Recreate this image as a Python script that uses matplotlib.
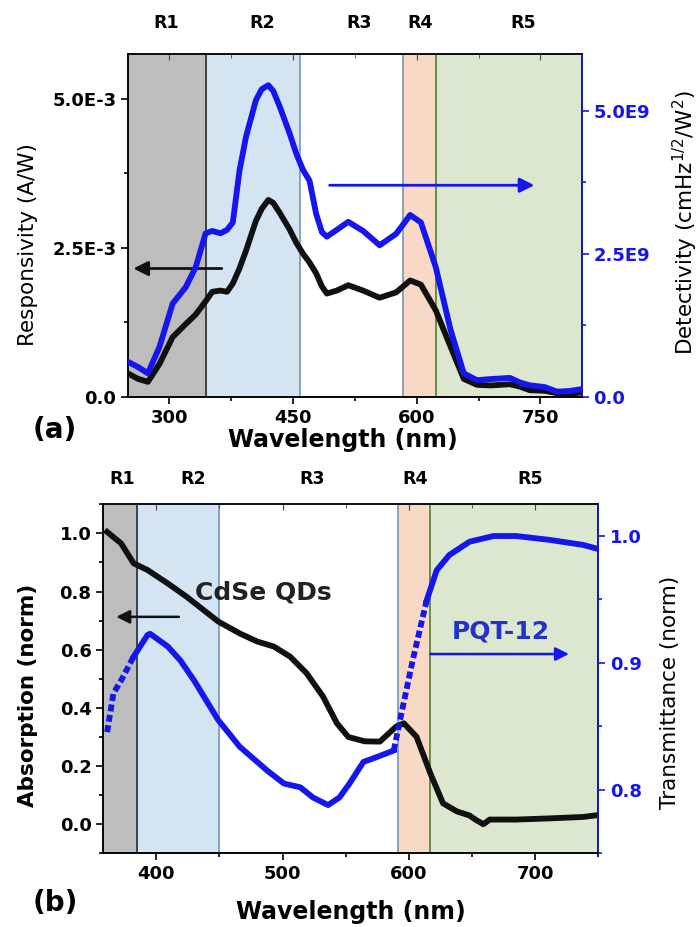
import numpy as np
import matplotlib
matplotlib.use("Agg")
import matplotlib.pyplot as plt
from matplotlib.ticker import MultipleLocator, FormatStrFormatter

plt.rcParams.update({"font.family": "DejaVu Sans", "font.size": 13, "font.weight": "bold"})
BLUE, INK = "#1515ee", "#111111"
GRAY, LBLUE, ORANGE, GREEN = "#bdbdbd", "#d4e4f3", "#f8d9c6", "#dbe7cf"
EDGE_B, EDGE_G = "#7d9dbf", "#5d8a3a"

# ---------- data: panel (a) ----------
wl_a = [250, 262, 274, 288, 304, 320, 332, 344, 352, 362, 370, 377, 385, 393, 405, 412,
        420, 426, 434, 446, 454, 462, 470, 478, 485, 491, 503, 517, 535, 555, 575, 592,
        605, 623, 641, 657, 673, 690, 713, 725, 737, 755, 770, 785, 798]
resp = [0.39, 0.30, 0.25, 0.55, 1.00, 1.22, 1.38, 1.60, 1.76, 1.78, 1.76, 1.90, 2.15, 2.45,
        2.95, 3.15, 3.30, 3.25, 3.08, 2.80, 2.58, 2.40, 2.25, 2.07, 1.85, 1.73, 1.78, 1.87,
        1.78, 1.66, 1.75, 1.95, 1.88, 1.45, 0.84, 0.30, 0.20, 0.19, 0.21, 0.17, 0.11, 0.10,
        0.06, 0.05, 0.07]  # x 1e-3 A/W
det = [0.61, 0.52, 0.41, 0.87, 1.63, 1.92, 2.27, 2.86, 2.90, 2.86, 2.92, 3.05, 3.95, 4.55,
       5.19, 5.38, 5.45, 5.35, 5.07, 4.60, 4.25, 3.97, 3.78, 3.20, 2.88, 2.80, 2.92, 3.06,
       2.90, 2.65, 2.85, 3.18, 3.05, 2.27, 1.17, 0.41, 0.29, 0.31, 0.33, 0.25, 0.20, 0.17,
       0.09, 0.10, 0.13]  # x 1e9 Jones
bounds_a = [250, 344, 459, 583, 623, 800]
labels_a_x = [296, 413, 530, 604, 729]

# ---------- data: panel (b) ----------
wl_abs = [361, 372, 382, 393, 409, 424, 449, 466, 480, 493, 506, 519, 532, 543, 552, 565,
          577, 590, 596, 606, 617, 627, 638, 648, 653, 659, 664, 685, 711, 738, 749]
absn = [1.005, 0.966, 0.897, 0.874, 0.828, 0.782, 0.697, 0.656, 0.628, 0.611, 0.576, 0.519,
        0.439, 0.347, 0.300, 0.285, 0.284, 0.336, 0.347, 0.301, 0.175, 0.072, 0.044, 0.030,
        0.015, 0.000, 0.016, 0.016, 0.020, 0.025, 0.031]
wl_tr = [361, 366, 372, 382, 393, 395, 409, 419, 430, 449, 466, 488, 501, 514, 524, 536,
         545, 553, 564, 575, 588, 593, 603, 614, 622, 632, 648, 667, 685, 711, 738, 749]
trn = [0.8455, 0.876, 0.886, 0.905, 0.922, 0.923, 0.913, 0.902, 0.886, 0.855, 0.834, 0.815,
       0.805, 0.802, 0.794, 0.788, 0.794, 0.805, 0.822, 0.826, 0.831, 0.855, 0.902, 0.949,
       0.973, 0.985, 0.9955, 1.0, 1.0, 0.997, 0.993, 0.990]
bounds_b = [358, 385, 450, 591, 617, 750]
labels_b_x = [373, 429, 523, 605, 696]
region_names = ["R1", "R2", "R3", "R4", "R5"]


def regions(ax, b):
    ax.axvspan(b[0], b[1], color=GRAY, lw=0, zorder=0)
    ax.axvline(b[1], color="#333333", lw=1.2, zorder=0.5)
    ax.axvspan(b[1], b[2], facecolor=LBLUE, edgecolor=EDGE_B, lw=1.3, zorder=0)
    ax.axvspan(b[3], b[4], facecolor=ORANGE, edgecolor=EDGE_B, lw=1.3, zorder=0)
    ax.axvspan(b[4], b[5], facecolor=GREEN, edgecolor=EDGE_G, lw=1.3, zorder=0)


def style(ax, ax2):
    ax.tick_params(axis="both", which="both", direction="out", labelsize=13, width=1.2)
    ax.tick_params(which="major", length=5)
    ax.tick_params(which="minor", length=3)
    ax2.tick_params(axis="y", which="both", direction="out", colors=BLUE, labelsize=13, width=1.2)
    ax2.tick_params(which="major", length=5)
    ax2.tick_params(which="minor", length=3)
    for s in ["left", "bottom"]:
        ax.spines[s].set_color("#222222")
    ax.spines["top"].set_color("#555555")
    ax2.spines["right"].set_color(BLUE)
    for a in (ax, ax2):
        for s in a.spines.values():
            s.set_linewidth(1.2)
    top = ax.secondary_xaxis("top")
    top.tick_params(which="both", direction="in", labeltop=False, color="#444444")
    top.tick_params(which="major", length=4)
    top.tick_params(which="minor", length=3)
    top.set_xticks(ax.get_xticks())
    top.xaxis.set_minor_locator(ax.xaxis.get_minor_locator())
    top.spines["top"].set_visible(False)


fig = plt.figure(figsize=(7.0, 9.27), dpi=100)

# ---------- (a) ----------
ax = fig.add_axes([0.183, 0.572, 0.648, 0.370])
ax2 = ax.twinx()
regions(ax, bounds_a)
ax.plot(wl_a, np.array(resp) * 1e-3, color=INK, lw=4.2, solid_joinstyle="round", zorder=3)
ax2.plot(wl_a, np.array(det) * 1e9, color=BLUE, lw=4.2, solid_joinstyle="round", zorder=3)
ax.set_xlim(250, 800); ax.set_ylim(0, 5.75e-3); ax2.set_ylim(0, 6.0e9)
ax.set_xticks([300, 450, 600, 750]); ax.xaxis.set_minor_locator(MultipleLocator(75))
ax.set_yticks([0, 2.5e-3, 5e-3], ["0.0", "2.5E-3", "5.0E-3"])
ax.yaxis.set_minor_locator(MultipleLocator(1.25e-3))
ax2.set_yticks([0, 2.5e9, 5e9], ["0.0", "2.5E9", "5.0E9"])
ax2.yaxis.set_minor_locator(MultipleLocator(1.25e9))
style(ax, ax2)
ax.annotate("", xy=(253, 2.15e-3), xytext=(367, 2.15e-3),
            arrowprops=dict(arrowstyle="-|>", color=INK, lw=2, mutation_scale=22))
ax2.annotate("", xy=(746, 3.70e9), xytext=(491, 3.70e9),
             arrowprops=dict(arrowstyle="-|>", color=BLUE, lw=2, mutation_scale=22))
for name, xr in zip(region_names, labels_a_x):
    ax.text(xr, 1.0 + 31 / 343, name, transform=ax.get_xaxis_transform(),
            ha="center", va="center", fontsize=12.5)
fig.text(28 / 700, 1 - 245 / 927, "Responsivity (A/W)", rotation=90, ha="center", va="center",
         fontsize=15.5, fontweight="normal")
fig.text(685 / 700, 1 - 223 / 927, r"Detectivity (cmHz$^{\mathregular{1/2}}$/W$^{\mathregular{2}}$)",
         rotation=90, ha="center", va="center", fontsize=15.5, fontweight="normal")
fig.text(343 / 700, 1 - 440 / 927, "Wavelength (nm)", ha="center", va="center", fontsize=17)
fig.text(55 / 700, 1 - 430 / 927, "(a)", ha="center", va="center", fontsize=20)

# ---------- (b) ----------
bx = fig.add_axes([0.1476, 0.0795, 0.7071, 0.3765])
bx2 = bx.twinx()
regions(bx, bounds_b)
bx.plot(wl_abs, absn, color=INK, lw=4.2, solid_joinstyle="round", zorder=3)
wt = np.array(wl_tr); tv = np.array(trn)
solid1 = (wt >= 382) & (wt <= 588)
solid2 = wt >= 614
dash1 = wt <= 382
dash2 = (wt >= 588) & (wt <= 614)
for m in (solid1, solid2):
    bx2.plot(wt[m], tv[m], color=BLUE, lw=4.2, solid_joinstyle="round", zorder=3)
for m in (dash1, dash2):
    bx2.plot(wt[m], tv[m], color=BLUE, lw=4.2, ls=(0, (1.2, 0.6)), zorder=3)
bx.set_xlim(358, 750); bx.set_ylim(-0.1, 1.1); bx2.set_ylim(0.75, 1.025)
bx.set_xticks([400, 500, 600, 700]); bx.xaxis.set_minor_locator(MultipleLocator(50))
bx.set_yticks([0, 0.2, 0.4, 0.6, 0.8, 1.0]); bx.yaxis.set_minor_locator(MultipleLocator(0.1))
bx.yaxis.set_major_formatter(FormatStrFormatter("%.1f"))
bx2.set_yticks([0.8, 0.9, 1.0]); bx2.yaxis.set_minor_locator(MultipleLocator(0.05))
bx2.yaxis.set_major_formatter(FormatStrFormatter("%.1f"))
style(bx, bx2)
bx.annotate("", xy=(366, 0.713), xytext=(420, 0.713),
            arrowprops=dict(arrowstyle="-|>", color=INK, lw=1.8, mutation_scale=20))
bx.text(485, 0.795, "CdSe QDs", ha="center", va="center", fontsize=18, color="#222222")
bx2.annotate("", xy=(729, 0.907), xytext=(615, 0.907),
             arrowprops=dict(arrowstyle="-|>", color=BLUE, lw=1.8, mutation_scale=20))
bx2.text(673, 0.9245, "PQT-12", ha="center", va="center", fontsize=18, color="#2233cc")
for name, xr in zip(region_names, labels_b_x):
    bx.text(xr, 1.0 + 25 / 349, name, transform=bx.get_xaxis_transform(),
            ha="center", va="center", fontsize=12.5)
fig.text(28 / 700, 1 - 695 / 927, "Absorption (norm)", rotation=90, ha="center", va="center",
         fontsize=15.5)
fig.text(670 / 700, 1 - 692 / 927, "Transmittance (norm)", rotation=90, ha="center", va="center",
         fontsize=15.5, fontweight="normal")
fig.text(351 / 700, 1 - 912 / 927, "Wavelength (nm)", ha="center", va="center", fontsize=17)
fig.text(55 / 700, 1 - 903 / 927, "(b)", ha="center", va="center", fontsize=20)

fig.savefig("out.png", dpi=100)
